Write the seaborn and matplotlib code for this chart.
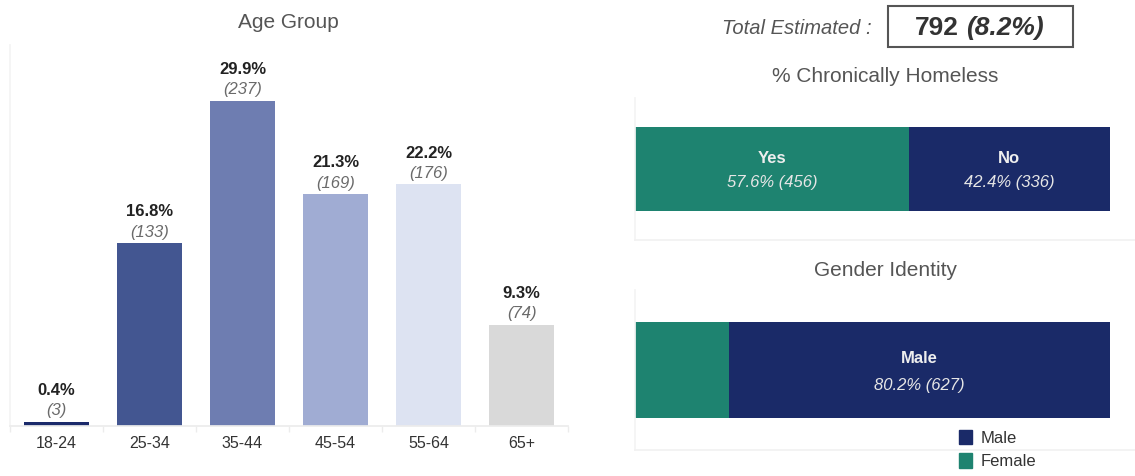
import matplotlib
matplotlib.use("Agg")
import matplotlib.pyplot as plt
from matplotlib.patches import Patch, Rectangle
import numpy as np
import seaborn as sns

sns.set_theme(style="white")
plt.rcParams["font.family"] = ["Liberation Sans", "DejaVu Sans"]

# ---- data ----
age_groups = ["18-24", "25-34", "35-44", "45-54", "55-64", "65+"]
age_pct = [0.4, 16.8, 29.9, 21.3, 22.2, 9.3]
age_count = [3, 133, 237, 169, 176, 74]
age_colors = ["#1b2a6b", "#435691", "#6e7db1", "#a0acd3", "#dde3f2", "#d9d9d9"]

chronic_labels = ["Yes", "No"]
chronic_pct = [57.6, 42.4]
chronic_count = [456, 336]

gender_labels = ["Female", "Male"]
gender_pct = [19.8, 80.2]
gender_count = [165, 627]

total_count = 792
total_pct = 8.2

TEAL = "#1e8370"
NAVY = "#1a2a68"
seg_colors = [TEAL, NAVY]

W, H = 1135, 476
fig = plt.figure(figsize=(W / 100, H / 100), dpi=100)


def px_axes(x0, y0, x1, y1):
    return fig.add_axes([x0 / W, 1 - y1 / H, (x1 - x0) / W, (y1 - y0) / H])


def fy(y):
    return 1 - y / H


# ---- Age group bar chart ----
ax = px_axes(10, 45, 568, 426)
sns.barplot(x=age_groups, y=age_pct, hue=age_groups, palette=age_colors,
            legend=False, width=0.7, saturation=1, ax=ax, linewidth=0)
ax.set_xlim(-0.5, len(age_groups) - 0.5)
ax.set_ylim(0, 35)
ax.set_yticks([])
ax.set_xlabel("")
ax.set_ylabel("")
for s in ["top", "right"]:
    ax.spines[s].set_visible(False)
ax.spines["left"].set_color("#f4f4f4")
ax.spines["bottom"].set_color("#ececec")
ax.set_xticks(np.arange(len(age_groups) + 1) - 0.5, minor=True)
ax.tick_params(axis="x", which="minor", length=4, color="#ececec", bottom=True)
ax.tick_params(axis="x", which="major", length=0, pad=7, labelsize=11.5,
               labelcolor="#333333")
for i, (p, c) in enumerate(zip(age_pct, age_count)):
    ax.annotate(f"({c})", (i, p), xytext=(0, 8), textcoords="offset points",
                ha="center", va="center", fontsize=12, style="italic",
                color="#6a6a6a")
    ax.annotate(f"{p}%", (i, p), xytext=(0, 22.5), textcoords="offset points",
                ha="center", va="center", fontsize=12, fontweight="bold",
                color="#222222")
fig.text(288 / W, fy(22), "Age Group", ha="center", va="center",
         fontsize=15, color="#555555")

# ---- Total estimated ----
fig.text(872 / W, fy(28), "Total Estimated :", ha="right", va="center",
         fontsize=14.5, style="italic", color="#555555")
fig.add_artist(Rectangle((888 / W, fy(47)), (1073 - 888) / W, 41 / H,
                         transform=fig.transFigure, fill=False,
                         edgecolor="#555555", linewidth=1.5))
t1 = fig.text(915 / W, fy(28), f"{total_count}", ha="left", va="center",
              fontsize=19, fontweight="bold", color="#333333")
fig.add_artist(plt.Annotation(f"({total_pct}%)", xy=(1, 0), xycoords=t1,
                              xytext=(5, 0), textcoords="offset points",
                              ha="left", va="bottom", fontsize=19,
                              fontweight="bold", style="italic",
                              color="#333333"))


def stacked_hbar(axh, labels, pcts, counts, show):
    cum = np.cumsum(pcts)
    for j in range(len(labels) - 1, -1, -1):
        sns.barplot(x=[cum[j]], y=["all"], orient="h", color=seg_colors[j],
                    saturation=1, width=0.8, ax=axh, linewidth=0)
    start = 0
    for lab, p, c in zip(labels, pcts, counts):
        mid = start + p / 2
        start += p
        if lab not in show:
            continue
        axh.text(mid, -0.10, lab, ha="center", va="center", fontsize=12,
                 fontweight="bold", color="#eeeeee")
        axh.text(mid, 0.13, f"{p}% ({c})", ha="center", va="center",
                 fontsize=12, style="italic", color="#e6e6e6")
    axh.set_xlim(0, 100 * 501 / 476)
    axh.set_xticks([])
    axh.set_yticks([])
    axh.set_xlabel("")
    axh.set_ylabel("")
    for s in ["top", "right"]:
        axh.spines[s].set_visible(False)
    axh.spines["left"].set_color("#f4f4f4")
    axh.spines["bottom"].set_color("#f2f2f2")


# ---- Chronically homeless ----
ax2 = px_axes(635, 98, 1135, 240)
stacked_hbar(ax2, chronic_labels, chronic_pct, chronic_count, {"Yes", "No"})
ax2.set_ylim(0.68, -0.68)
fig.text(885 / W, fy(77), "% Chronically Homeless", ha="center",
         va="center", fontsize=15, color="#555555")

# ---- Gender identity ----
ax3 = px_axes(635, 290, 1135, 450)
stacked_hbar(ax3, gender_labels, gender_pct, gender_count, {"Male"})
ax3.set_ylim(0.667, -0.667)
fig.text(885 / W, fy(270), "Gender Identity", ha="center", va="center",
         fontsize=15, color="#555555")

handles = [Patch(color=NAVY, label="Male"), Patch(color=TEAL, label="Female")]
fig.legend(handles=handles, loc="upper left",
           bbox_to_anchor=(959 / W, fy(430)), frameon=False, fontsize=12,
           handlelength=0.8, handleheight=0.95, handletextpad=0.5,
           labelspacing=0.45, borderpad=0, borderaxespad=0,
           labelcolor="#333333")

fig.savefig("out.png", dpi=100)
